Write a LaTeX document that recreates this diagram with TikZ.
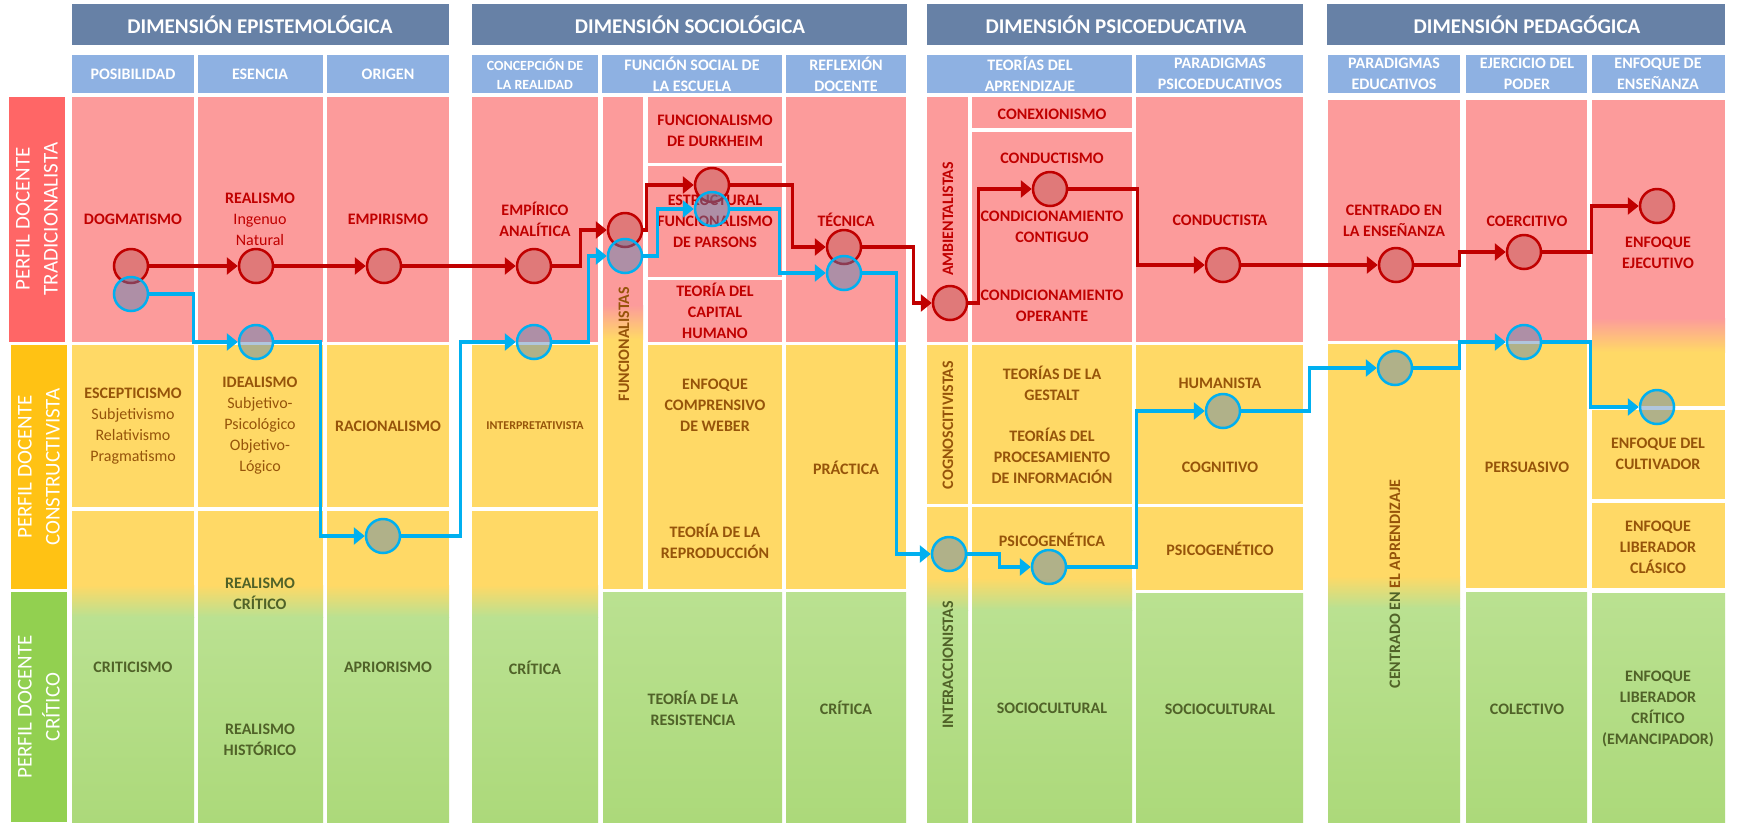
\documentclass[tikz,border=0pt]{standalone}
\usepackage{fontspec}
\setmainfont{Carlito}
\usepackage{tikz}
\usetikzlibrary{arrows.meta}
\definecolor{headblue}{RGB}{103,129,166}
\definecolor{subblue}{RGB}{142,177,226}
\definecolor{cellred}{RGB}{252,155,155}
\definecolor{cellyellow}{RGB}{255,217,102}
\definecolor{cellgreen}{RGB}{186,225,145}
\definecolor{cellgreendark}{RGB}{172,217,122}
\definecolor{labelred}{RGB}{255,102,102}
\definecolor{labelyellow}{RGB}{255,194,20}
\definecolor{labelgreen}{RGB}{146,208,80}
\definecolor{textred}{RGB}{192,0,0}
\definecolor{textbrown}{RGB}{150,84,10}
\definecolor{textgreen}{RGB}{80,98,40}
\definecolor{pathblue}{RGB}{0,176,240}
\definecolor{dotred}{RGB}{190,80,80}
\definecolor{dotblue}{RGB}{80,130,180}

\newcommand{\greencell}[4]{\shade[top color=cellgreen, bottom color=cellgreendark] (#1,#2) rectangle (#3,#4);}
\newcommand{\ygcell}[5]{%
  \fill[cellyellow] (#1,#2) rectangle (#3,#5);
  \shade[top color=cellyellow, bottom color=cellgreen] (#1,#5) rectangle (#3,{#5+32});
  \greencell{#1}{#5+32}{#3}{#4}}
\newcommand{\rycell}[5]{%
  \fill[cellred] (#1,#2) rectangle (#3,#5);
  \shade[top color=cellred, bottom color=cellyellow] (#1,#5) rectangle (#3,{#5+34});
  \fill[cellyellow] (#1,{#5+34}) rectangle (#3,#4);}

\begin{document}
\begin{tikzpicture}[x=1pt, y=-1pt,
    cell/.style={align=center, inner sep=0pt, font=\bfseries\fontsize{16}{21}\selectfont},
    redtext/.style={cell, text=textred},
    browntext/.style={cell, text=textbrown},
    greentext/.style={cell, text=textgreen},
    vert/.style={cell, rotate=90},
    headtext/.style={text=white, inner sep=0pt, font=\bfseries\fontsize{21}{25}\selectfont},
    subtext/.style={align=center, text=white, inner sep=0pt, font=\bfseries\fontsize{16}{21}\selectfont},
    sidetext/.style={align=center, text=white, rotate=90, inner sep=0pt, font=\fontsize{21}{28}\selectfont},
    reddot/.style={circle, minimum size=34pt, inner sep=0pt, line width=2.5pt, draw=textred, fill=dotred, fill opacity=0.45},
    bluedot/.style={circle, minimum size=34pt, inner sep=0pt, line width=2.5pt, draw=pathblue, fill=dotblue, fill opacity=0.45},
    redpath/.style={draw=textred, line width=3.5pt, -{Triangle[length=11pt,width=17pt]}},
    bluepath/.style={draw=pathblue, line width=3.5pt, -{Triangle[length=11pt,width=17pt]}}]
  \useasboundingbox (0,0) rectangle (1737,823);
  \fill[white] (0,0) rectangle (1737,823);

  % dimensiones
  \fill[headblue] (72,4) rectangle (449,45);
  \node[headtext] (hepi) at (260,25) {DIMENSIÓN EPISTEMOLÓGICA};
  \fill[headblue] (472,4) rectangle (907,45);
  \node[headtext] (hsoc) at (690,25) {DIMENSIÓN SOCIOLÓGICA};
  \fill[headblue] (927,4) rectangle (1303,45);
  \node[headtext] (hpsi) at (1116,25) {DIMENSIÓN PSICOEDUCATIVA};
  \fill[headblue] (1327,4) rectangle (1725,45);
  \node[headtext] (hped) at (1527,25) {DIMENSIÓN PEDAGÓGICA};

  \foreach \xa/\xb in {72/194,198/323,327/449,472/598,602/782,786/906,927/1132,1136/1303,1328/1460,1466/1587,1592/1725}
    \fill[subblue] (\xa,55) rectangle (\xb,93);
  \node[subtext] (spos) at (133,74) {POSIBILIDAD};
  \node[subtext] (sese) at (260,74) {ESENCIA};
  \node[subtext] (sori) at (388,74) {ORIGEN};
  \node[subtext, font=\bfseries\fontsize{14}{19}\selectfont] (scon) at (535,74) {CONCEPCIÓN DE\\LA REALIDAD};
  \node[subtext] (sfun) at (692,74) {FUNCIÓN SOCIAL DE\\LA ESCUELA};
  \node[subtext] (sref) at (846,74) {REFLEXIÓN\\DOCENTE};
  \node[subtext] (steo) at (1030,74) {TEORÍAS DEL\\APRENDIZAJE};
  \node[subtext] (spps) at (1220,74) {PARADIGMAS\\PSICOEDUCATIVOS};
  \node[subtext] (sped) at (1394,74) {PARADIGMAS\\EDUCATIVOS};
  \node[subtext] (seje) at (1527,74) {EJERCICIO DEL\\PODER};
  \node[subtext] (senf) at (1658,74) {ENFOQUE DE\\ENSEÑANZA};

  % perfiles
  \fill[labelred] (9,97) rectangle (65,342);
  \node[sidetext] (ptra) at (37,219) {PERFIL DOCENTE\\TRADICIONALISTA};
  \fill[labelyellow] (11,345) rectangle (67,589);
  \node[sidetext] (pcon) at (39,467) {PERFIL DOCENTE\\CONSTRUCTIVISTA};
  \fill[labelgreen] (11,592) rectangle (67,822);
  \node[sidetext] (pcri) at (39,707) {PERFIL DOCENTE\\CRÍTICO};

  % celdas
  \foreach \xa/\xb in {72/194,198/323,327/449} {
    \fill[cellred] (\xa,97) rectangle (\xb,342);
    \fill[cellyellow] (\xa,345) rectangle (\xb,507);
    \ygcell{\xa}{511}{\xb}{822}{585}
  }
  \fill[cellred] (472,97) rectangle (598,342);
  \fill[cellyellow] (472,345) rectangle (598,507);
  \ygcell{472}{511}{598}{822}{585}
  \rycell{603}{97}{643}{589}{305}
  \fill[cellred] (648,97) rectangle (782,163);
  \fill[cellred] (648,166) rectangle (782,277);
  \fill[cellred] (648,280) rectangle (782,342);
  \fill[cellyellow] (648,345) rectangle (782,589);
  \greencell{603}{592}{782}{822}
  \fill[cellred] (786,97) rectangle (906,342);
  \fill[cellyellow] (786,345) rectangle (906,589);
  \greencell{786}{592}{906}{822}

  \fill[cellred] (927,97) rectangle (968,342);
  \fill[cellyellow] (927,345) rectangle (968,504);
  \ygcell{927}{507}{968}{822}{578}
  \fill[cellred] (972,97) rectangle (1132,128);
  \fill[cellred] (972,132) rectangle (1132,342);
  \fill[cellyellow] (972,345) rectangle (1132,504);
  \ygcell{972}{507}{1132}{822}{578}
  \fill[cellred] (1136,97) rectangle (1303,342);
  \fill[cellyellow] (1136,345) rectangle (1303,504);
  \fill[cellyellow] (1136,507) rectangle (1303,590);
  \greencell{1136}{593}{1303}{822}

  \fill[cellred] (1328,100) rectangle (1460,341);
  \ygcell{1328}{344}{1460}{822}{576}
  \fill[cellred] (1466,100) rectangle (1587,341);
  \fill[cellyellow] (1466,344) rectangle (1587,588);
  \greencell{1466}{592}{1587}{822}
  \rycell{1592}{100}{1725}{406}{318}
  \fill[cellyellow] (1592,410) rectangle (1725,499);
  \fill[cellyellow] (1592,503) rectangle (1725,588);
  \greencell{1592}{593}{1725}{822}

  % textos
  \node[redtext] (tdog) at (133,219) {DOGMATISMO};
  \node[redtext] (trea) at (260,219) {REALISMO\\\mdseries Ingenuo\\\mdseries Natural};
  \node[redtext] (temp) at (388,219) {EMPIRISMO};
  \node[browntext] (tesc) at (133,426) {ESCEPTICISMO\\\mdseries Subjetivismo\\\mdseries Relativismo\\\mdseries Pragmatismo};
  \node[browntext] (tide) at (260,426) {IDEALISMO\\\mdseries Subjetivo-\\\mdseries Psicológico\\\mdseries Objetivo-\\\mdseries Lógico};
  \node[browntext] (trac) at (388,426) {RACIONALISMO};
  \node[greentext] (tcri) at (133,667) {CRITICISMO};
  \node[greentext] (trcr) at (260,594) {REALISMO\\CRÍTICO};
  \node[greentext] (trhi) at (260,740) {REALISMO\\HISTÓRICO};
  \node[greentext] (tapr) at (388,667) {APRIORISMO};

  \node[redtext] (tana) at (535,219) {EMPÍRICO\\ANALÍTICA};
  \node[browntext, font=\bfseries\fontsize{12}{15}\selectfont] (tint) at (535,426) {INTERPRETATIVISTA};
  \node[greentext] (tcrs) at (535,668) {CRÍTICA};
  \node[vert, text=textbrown] (tfun) at (624,344) {FUNCIONALISTAS};
  \node[redtext] (tdur) at (715,131) {FUNCIONALISMO\\DE DURKHEIM};
  \node[redtext] (tpar) at (715,221) {ESTRUCTURAL\\FUNCIONALISMO\\DE PARSONS};
  \node[redtext] (tcap) at (715,311) {TEORÍA DEL\\CAPITAL\\HUMANO};
  \node[browntext] (tweb) at (715,405) {ENFOQUE\\COMPRENSIVO\\DE WEBER};
  \node[browntext] (trep) at (715,541) {TEORÍA DE LA\\REPRODUCCIÓN};
  \node[greentext] (tres) at (693,708) {TEORÍA DE LA\\RESISTENCIA};
  \node[redtext] (ttec) at (846,220) {TÉCNICA};
  \node[browntext] (tpra) at (846,468) {PRÁCTICA};
  \node[greentext] (tcrr) at (846,708) {CRÍTICA};

  \node[vert, text=textred] (tamb) at (948,219) {AMBIENTALISTAS};
  \node[vert, text=textbrown] (tcog) at (948,425) {COGNOSCITIVISTAS};
  \node[vert, text=textgreen] (titr) at (948,665) {INTERACCIONISTAS};
  \node[redtext] (tcnx) at (1052,114) {CONEXIONISMO};
  \node[redtext] (tcnd) at (1052,158) {CONDUCTISMO};
  \node[redtext] (tcco) at (1052,227) {CONDICIONAMIENTO\\CONTIGUO};
  \node[redtext] (tcop) at (1052,306) {CONDICIONAMIENTO\\OPERANTE};
  \node[browntext] (tges) at (1052,383) {TEORÍAS DE LA\\GESTALT};
  \node[browntext] (tpro) at (1052,456) {TEORÍAS DEL\\PROCESAMIENTO\\DE INFORMACIÓN};
  \node[browntext] (tpsg) at (1052,540) {PSICOGENÉTICA};
  \node[greentext] (tsca) at (1052,708) {SOCIOCULTURAL};
  \node[redtext] (tcta) at (1220,220) {CONDUCTISTA};
  \node[browntext] (thum) at (1220,383) {HUMANISTA};
  \node[browntext] (tcgn) at (1220,467) {COGNITIVO};
  \node[browntext] (tpsc) at (1220,549) {PSICOGENÉTICO};
  \node[greentext] (tscb) at (1220,709) {SOCIOCULTURAL};

  \node[redtext] (tens) at (1394,221) {CENTRADO EN\\LA ENSEÑANZA};
  \node[vert] (tapz) at (1395,584) {\color{textgreen}CENTRADO EN \color{textbrown}EL APRENDIZAJE};
  \node[redtext] (tcoe) at (1527,221) {COERCITIVO};
  \node[browntext] (tper) at (1527,467) {PERSUASIVO};
  \node[greentext] (tcol) at (1527,709) {COLECTIVO};
  \node[redtext] (teje) at (1658,253) {ENFOQUE\\EJECUTIVO};
  \node[browntext] (tcul) at (1658,454) {ENFOQUE DEL\\CULTIVADOR};
  \node[browntext] (tcla) at (1658,547) {ENFOQUE\\LIBERADOR\\CLÁSICO};
  \node[greentext] (tcrt) at (1658,709) {ENFOQUE\\LIBERADOR\\CRÍTICO\\(EMANCIPADOR)};

  % trayectorias
  \foreach \n/\x/\y in {r1/131/266,r2/256/266,r3/384/266,r4/534/266,r5/625/230,r6/712/185,r7/844/247,r8/950/303,r9/1050/189,r10/1223/265,r11/1396/265,r12/1524/252,r13/1657/206}
    \node[reddot] (\n) at (\x,\y) {};
  \foreach \a/\b/\d in {r1/r2/20,r2/r3/20,r3/r4/20,r4/r5/28,r5/r6/3,r6/r7/62,r7/r8/51,r8/r9/10,r9/r10/69,r10/r11/20,r11/r12/45,r12/r13/49}
    \draw[redpath] (\a.east) -- ++(\d,0) |- (\b.west);

  \foreach \n/\x/\y in {b1/131/294,b2/256/342,b3/383/536,b4/534/342,b5/625/256,b6/712/209,b7/844/273,b8/949/554,b9/1049/567,b10/1223/411,b11/1395/368,b12/1524/342,b13/1657/407}
    \node[bluedot] (\n) at (\x,\y) {};
  \foreach \a/\b/\d in {b1/b2/44,b2/b3/46,b3/b4/59,b4/b5/36,b5/b6/14,b6/b7/49,b7/b8/34,b8/b9/32,b9/b10/69,b10/b11/68,b11/b12/46,b12/b13/48}
    \draw[bluepath] (\a.east) -- ++(\d,0) |- (\b.west);
\end{tikzpicture}
\end{document}
